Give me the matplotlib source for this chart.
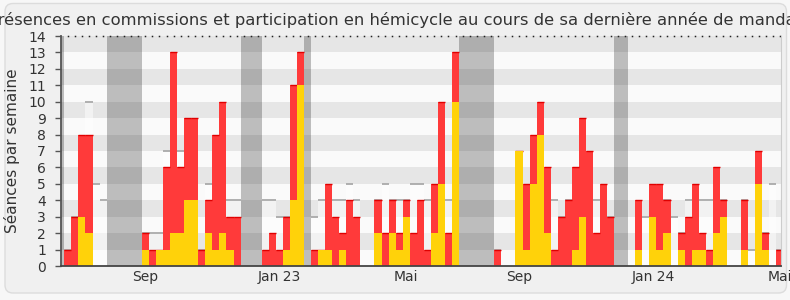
import numpy as np
import matplotlib
matplotlib.use("Agg")
import matplotlib.pyplot as plt
from matplotlib.patches import FancyBboxPatch
from matplotlib.transforms import IdentityTransform

# Data (one value per week)
presence = [1, 3, 8, 8, 0, 0,
            0, 0, 0, 0, 0,
            2, 1, 1, 6, 13, 6, 9, 9, 1, 4, 8, 10, 3, 3,
            0, 0, 0,
            1, 2, 1, 3, 11, 13,
            0,
            1, 1, 5, 3, 2, 4, 3, 0, 0, 4, 2, 4, 2, 4, 2, 4, 1, 5, 10, 2, 13,
            0, 0, 0, 0, 0,
            1, 0, 0, 7, 5, 8, 10, 6, 1, 3, 4, 6, 9, 7, 2, 5, 3,
            0, 0,
            0, 4, 0, 5, 5, 4, 0, 2, 3, 5, 2, 1, 6, 4, 0, 0, 4, 0, 7, 2, 0, 1]
participation = [0, 0, 3, 2, 0, 0,
                 0, 0, 0, 0, 0,
                 1, 0, 1, 1, 2, 2, 4, 4, 0, 2, 1, 2, 1, 0,
                 0, 0, 0,
                 0, 0, 0, 1, 4, 11,
                 0,
                 0, 1, 1, 0, 1, 0, 0, 0, 0, 2, 0, 2, 1, 3, 0, 0, 0, 2, 5, 0, 10,
                 0, 0, 0, 0, 0,
                 0, 0, 0, 7, 1, 5, 8, 2, 0, 0, 0, 1, 3, 0, 0, 0, 0,
                 0, 0,
                 0, 1, 0, 3, 1, 2, 0, 1, 0, 1, 1, 0, 2, 3, 0, 0, 1, 0, 5, 1, 0, 0]
median = [1, 3, 5, 10, 5, 4,
          0, 0, 0, 0, 0,
          2, 2, 2, 7, 7, 7, 6, 6, 1, 5, 6, 6, 4, 4,
          0, 0, 0,
          4, 4, 3, 3, 4, 4,
          0,
          3, 4, 4, 4, 4, 5, 4, 0, 0, 4, 5, 4, 4, 4, 5, 5, 4, 4, 4, 4, 4,
          0, 0, 0, 0, 0,
          1, 0, 0, 4, 4, 4, 4, 4, 4, 3, 4, 4, 4, 4, 4, 4, 3,
          0, 0,
          0, 3, 3, 4, 4, 4, 3, 2, 4, 4, 4, 4, 4, 4, 0, 0, 4, 1, 4, 2, 5, 1]
vacation_start = [-1, 6, 25, 34, 56, 78]
vacation_len = [1, 5, 3, 1, 5, 2]
tick_weeks = [11.5, 30.5, 48.5, 64.5, 83.5, 101.5]
tick_labels = ['Sep', 'Jan 23', 'Mai', 'Sep', 'Jan 24', 'Mai']

TITLE = "Présences en commissions et participation en hémicycle au cours de sa dernière année de mandat"
RED = '#FF3A3A'
YELLOW = '#FFD20A'

weeks = np.arange(len(presence))
presence = np.array(presence)
participation = np.array(participation)
median = np.array(median)

fig = plt.figure(figsize=(7.9, 3.0), dpi=100, facecolor='#F7F7F7')
panel = FancyBboxPatch((5, 7), 781.5, 289.5,
                       boxstyle='round,pad=0,rounding_size=8',
                       facecolor='#F0F0F0', edgecolor='#DCDCDC',
                       lw=1, transform=IdentityTransform(), figure=fig, zorder=-10)
fig.patches.append(panel)

ax = fig.add_axes([61.3 / 790, 34 / 300, (780.7 - 61.3) / 790, 230 / 300])
ax.set_facecolor('white')

# vacation shading
for s, n in zip(vacation_start, vacation_len):
    ax.axvspan(s, s + n, color='#C1C1C1', lw=0, zorder=0.5)

# alternating horizontal bands
for k in range(14):
    ax.axhspan(k, k + 1, color='black', alpha=0.098 if k % 2 else 0.02, lw=0, zorder=1)

# median of all deputies
ax.bar(weeks, median, width=1, align='edge', color='white', alpha=0.5, lw=0, zorder=2)
m = median > 0
ax.hlines(median[m], weeks[m], weeks[m] + 1, color='#AAAAAA', lw=1.3, zorder=2.2)

# presences and participation
ax.bar(weeks, presence, width=1, align='edge', color=RED, lw=0, zorder=3)
p = presence > 0
ax.hlines(presence[p], weeks[p], weeks[p] + 1, color='#E00000', lw=1.0, zorder=3.2)
ax.bar(weeks, participation, width=1, align='edge', color=YELLOW, lw=0, zorder=4)

# dotted line on top
ax.plot(weeks + 0.5, np.full(len(weeks), 14.0), ls='none', marker='s', ms=1.1,
        mew=0, color='#222222', clip_on=False, zorder=5)

ax.set_xlim(-0.43, 101.63)
ax.set_ylim(0, 14)
ax.set_yticks(range(15))
ax.tick_params(axis='y', labelsize=10, labelcolor='#333333', length=4,
               width=1, color='#555555', pad=7)
ax.set_xticks(tick_weeks)
ax.set_xticklabels(tick_labels)
ax.tick_params(axis='x', labelsize=10, labelcolor='#333333', length=0, pad=3)

ax.spines['top'].set_visible(False)
ax.spines['right'].set_color('#CCCCCC')
ax.spines['left'].set_color('#555555')
ax.spines['left'].set_linewidth(1.3)
ax.spines['bottom'].set_color('#444444')
ax.spines['bottom'].set_linewidth(1.3)
for sp in ax.spines.values():
    sp.set_zorder(6)

fig.text(0.5, 1 - 20 / 300, TITLE, ha='center', va='center', fontsize=11.8, color='#333333')
fig.text(12.5 / 790, 1 - 151 / 300, 'Séances par semaine', rotation=90,
         ha='center', va='center', fontsize=11, color='#333333')

fig.savefig('out.png', dpi=100, facecolor=fig.get_facecolor())
